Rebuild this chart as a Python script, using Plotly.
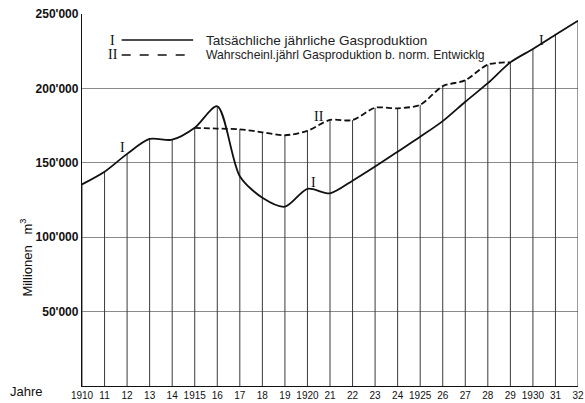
import plotly.graph_objects as go

# ---- data ----
years = list(range(1910, 1933))
tick_labels = ["1910", "11", "12", "13", "14", "1915", "16", "17", "18", "19",
               "1920", "21", "22", "23", "24", "1925", "26", "27", "28", "29",
               "1930", "31", "32"]
actual = [135500, 144000, 156000, 166000, 165500, 173500, 188000, 141000,
          126500, 120500, 132500, 129500, 138000, 147500, 157500, 167500,
          178000, 191000, 203500, 217500, 226500, 236000, 245500]
normal_years = list(range(1915, 1930))
normal = [173500, 173000, 172500, 170500, 168500, 171500, 178800, 178700,
          187000, 186600, 189000, 201500, 205500, 216000, 217500]
y_ticks = [50000, 100000, 150000, 200000, 250000]
y_tick_labels = ["50'000", "100'000", "150'000", "200'000", "250'000"]

name_I = "Tatsächliche jährliche Gasproduktion"
name_II = "Wahrscheinl.jährl Gasproduktion b. norm. Entwicklg"

# vertical lines from the base up to the upper curve at each year
norm_map = dict(zip(normal_years, normal))
vx, vy = [], []
for yr, v in zip(years, actual):
    top = max(v, norm_map.get(yr, v))
    vx += [yr, yr, None]
    vy += [0, top, None]

fig = go.Figure()
fig.add_trace(go.Scatter(x=vx, y=vy, mode="lines",
                         line=dict(color="#3a3a3a", width=1),
                         hoverinfo="skip", showlegend=False))
fig.add_trace(go.Scatter(x=normal_years, y=normal, mode="lines", name=name_II,
                         line=dict(color="#111", width=1.8, dash="6px,3px",
                                   shape="spline", smoothing=0.8),
                         showlegend=False))
fig.add_trace(go.Scatter(x=years, y=actual, mode="lines", name=name_I,
                         line=dict(color="#111", width=1.8,
                                   shape="spline", smoothing=0.8),
                         showlegend=False))

serif = "Liberation Serif"
sans = "Liberation Sans"

# curve labels (Roman numerals)
for (lx, ly, t) in [(1911.8, 160000, "I"), (1920.25, 137000, "I"),
                    (1920.5, 181000, "II"), (1930.4, 232500, "I")]:
    fig.add_annotation(x=lx, y=ly, text=t, showarrow=False,
                       font=dict(family=serif, size=14, color="#111"))

# legend drawn as in the original
leg = [(0.93, "I", "solid", name_I, 13.6), (0.89, "II", "dash", name_II, 12.2)]
for ypos, num, dash, txt, fs in leg:
    fig.add_annotation(xref="paper", yref="paper", x=0.062, y=ypos, text=num,
                       showarrow=False, xanchor="center", yanchor="middle",
                       font=dict(family=serif, size=14, color="#111"))
    fig.add_shape(type="line", xref="paper", yref="paper",
                  x0=0.080, x1=0.224, y0=ypos, y1=ypos,
                  line=dict(color="#111", width=1.5, dash=dash))
    fig.add_annotation(xref="paper", yref="paper", x=0.245, y=ypos, text=txt,
                       showarrow=False, xanchor="left", yanchor="middle",
                       font=dict(family=sans, size=fs, color="#222"))

# axis titles
fig.add_annotation(xref="paper", yref="paper", x=-0.111, y=-0.016,
                   text="Jahre", showarrow=False, xanchor="center",
                   yanchor="middle", font=dict(family=sans, size=13, color="#111"))
fig.add_annotation(xref="paper", yref="paper", x=-0.113, y=0.345,
                   text="Millionen\u00a0\u00a0\u00a0m<sup>3</sup>", textangle=-90,
                   showarrow=False, xanchor="center", yanchor="middle",
                   font=dict(family=sans, size=13, color="#111"))

fig.update_layout(
    width=585, height=403,
    margin=dict(l=82, r=7, t=14, b=17, autoexpand=False),
    paper_bgcolor="white", plot_bgcolor="white",
    showlegend=False,
    xaxis=dict(range=[1910, 1932], tickvals=years, ticktext=tick_labels,
               automargin=False, ticklabeloverflow="allow",
               showgrid=False, zeroline=False, showline=True,
               linecolor="#111", linewidth=1.3, ticks="",
               tickfont=dict(family=sans, size=10, color="#111")),
    yaxis=dict(range=[0, 250000], tickvals=y_ticks, ticktext=y_tick_labels,
               automargin=False,
               showgrid=True, gridcolor="#8a8a8a", gridwidth=1,
               zeroline=False, showline=True, linecolor="#111", linewidth=1.3,
               ticks="", tickfont=dict(family=sans, size=12, color="#111",
                                       weight="bold")),
)

fig.write_html("out.html", config={"displayModeBar": False},
               post_script="document.body.style.margin='0';"
                           "document.body.style.overflow='hidden';")
